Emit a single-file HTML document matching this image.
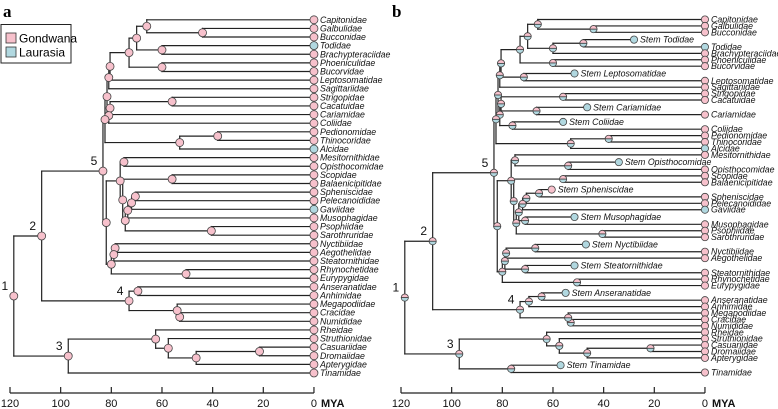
<!DOCTYPE html>
<html><head><meta charset="utf-8"><style>
html,body{margin:0;padding:0;background:#fff;}
svg{display:block;font-family:"Liberation Sans",sans-serif;}
.tip{font-style:italic;font-size:8.8px;fill:#111;}
.tick{font-size:11px;fill:#111;}
.nl{font-size:12px;fill:#111;}
</style></head><body>
<svg id="chart" width="778" height="409" viewBox="0 0 778 409" xmlns="http://www.w3.org/2000/svg">
<defs>
<clipPath id="ct"><rect x="-10" y="-10" width="20" height="10"/></clipPath>
<clipPath id="cb"><rect x="-10" y="0" width="20" height="10"/></clipPath>
</defs>
<text x="3" y="17" style="font-family:'Liberation Serif',serif;font-weight:bold;font-size:17px">a</text>
<text x="392" y="17" style="font-family:'Liberation Serif',serif;font-weight:bold;font-size:17px">b</text>
<g>
<rect x="1" y="24.5" width="70" height="38.5" fill="#fff" stroke="#222" stroke-width="1"/>
<rect x="6" y="33" width="10" height="10" fill="#f7c1cc" stroke="#333" stroke-width="0.8"/>
<text x="19" y="42.5" font-size="12">Gondwana</text>
<rect x="6" y="47" width="10" height="10" fill="#b1d8e0" stroke="#333" stroke-width="0.8"/>
<text x="19" y="56.5" font-size="12">Laurasia</text>
</g>
<g id="pa"></g><g id="pb"></g>
</svg>
<script>
const tipNames = ["Capitonidae","Galbulidae","Bucconidae","Todidae","Brachypteraciidae","Phoeniculidae","Bucorvidae","Leptosomatidae","Sagittariidae","Strigopidae","Cacatuidae","Cariamidae","Coliidae","Pedionomidae","Thinocoridae","Alcidae","Mesitornithidae","Opisthocomidae","Scopidae","Balaenicipitidae","Spheniscidae","Pelecanoididae","Gaviidae","Musophagidae","Psophiidae","Sarothruridae","Nyctibiidae","Aegothelidae","Steatornithidae","Rhynochetidae","Eurypygidae","Anseranatidae","Anhimidae","Megapodiidae","Cracidae","Numididae","Rheidae","Struthionidae","Casuariidae","Dromaiidae","Apterygidae","Tinamidae"];
const laurasiaTips = ["Todidae","Alcidae","Gaviidae"];
const nodeIds = ["GB","CGB","TB","CT","PB","K","KL","KLS","SC","SCC","SCCC","D","PT","PTA","DP","MO","SB","SP","SPG","SPGM","PS","I","H","F","NA","NAS","RE","G","E","N5","AA","CN","MCN","N4","N2","CD","CDA","SCDA","R","N3","N1"];
const nodeKids = [["Galbulidae","Bucconidae"],["Capitonidae","GB"],["Todidae","Brachypteraciidae"],["CGB","TB"],["Phoeniculidae","Bucorvidae"],["CT","PB"],["K","Leptosomatidae"],["KL","Sagittariidae"],["Strigopidae","Cacatuidae"],["SC","Cariamidae"],["SCC","Coliidae"],["KLS","SCCC"],["Pedionomidae","Thinocoridae"],["PT","Alcidae"],["D","PTA"],["Mesitornithidae","Opisthocomidae"],["Scopidae","Balaenicipitidae"],["Spheniscidae","Pelecanoididae"],["SP","Gaviidae"],["SPG","Musophagidae"],["Psophiidae","Sarothruridae"],["SPGM","PS"],["SB","I"],["MO","H"],["Nyctibiidae","Aegothelidae"],["NA","Steatornithidae"],["Rhynochetidae","Eurypygidae"],["NAS","RE"],["F","G"],["DP","E"],["Anseranatidae","Anhimidae"],["Cracidae","Numididae"],["Megapodiidae","CN"],["AA","MCN"],["N5","N4"],["Casuariidae","Dromaiidae"],["CD","Apterygidae"],["Struthionidae","CDA"],["Rheidae","SCDA"],["R","Tinamidae"],["N2","N3"]];
const nodeAges = [44,66,60,70,60,73,80.5,81,56,80.5,81,81.7,38,53,82.5,75,56,70.5,72,73.5,40.5,74.5,75.5,76.5,78.5,79,50.5,80,82,83.3,69.5,53,54,73,107.5,21.5,46.5,57.5,62.5,97,118.5];
const numberedNodes = ["N1","N2","N3","N4","N5"];
const numberedLabels = ["1","2","3","4","5"];
// panel b stems
const stemTips = ["Todidae","Leptosomatidae","Cariamidae","Coliidae","Opisthocomidae","Spheniscidae","Musophagidae","Nyctibiidae","Steatornithidae","Anseranatidae","Tinamidae"];
const stemAttachAges = [48,71.5,66.5,76,54,65.5,71,67,71,64.5,76.5];
const stemEndAges = [28,51.5,46.5,56,34,60.5,51.5,47,51.5,55,57];
const stemLaurasia = [true,true,true,true,true,false,true,true,true,true,true];
const tickValues = [120,100,80,60,40,20,0];

const NS="http://www.w3.org/2000/svg";
const PINK="#f7c1cc", BLUE="#b1d8e0";
function mk(parent,tag,attrs){const e=document.createElementNS(NS,tag);for(const k in attrs)e.setAttribute(k,attrs[k]);parent.appendChild(e);return e;}

function draw(gid, x0, panelB){
  const g=document.getElementById(gid);
  const X=a=>x0+(120-a)*2.533;
  const tipX=X(0);
  const ypos={};
  const rows=[];
  tipNames.forEach(t=>{
    if(panelB){const si=stemTips.indexOf(t); if(si>=0) rows.push({stem:si});}
    rows.push({tip:t});
  });
  let y=0;
  rows.forEach((r,i)=>{
    if(i>0){const prev=rows[i-1]; y+= panelB ? ((r.stem!==undefined||prev.stem!==undefined)?7.4:6.5) : 1;}
    r.y=y;
  });
  const yTop=panelB?19.5:19.8, yBot=panelB?372.5:373;
  rows.forEach(r=>{r.y=yTop+(yBot-yTop)*r.y/y;});
  const stemY={};
  rows.forEach(r=>{ if(r.tip){ypos[r.tip]=r.y;} else stemY[r.stem]=r.y; });
  const effY={}, effAge={};
  tipNames.forEach(t=>{effY[t]=ypos[t];effAge[t]=0;});
  const lines=mk(g,'g',{});
  
  
  const circles=[];
  const L=(x1,y1,x2,y2)=>mk(lines,'line',{x1,y1,x2,y2,stroke:'#222','stroke-width':1.2,'stroke-linecap':'square'});
  if(panelB){
    stemTips.forEach((t,i)=>{
      const sy=stemY[i], ty=ypos[t], ny=(sy+ty)/2, ax=X(stemAttachAges[i]);
      L(ax,sy,ax,ty); L(ax,sy,X(stemEndAges[i]),sy); L(ax,ty,tipX,ty);
      circles.push({x:ax,y:ny,half:true});
      circles.push({x:X(stemEndAges[i]),y:sy,col:stemLaurasia[i]?BLUE:PINK,stemLabel:'Stem '+t});
      effY[t]=ny; effAge[t]=stemAttachAges[i];
    });
  }
  nodeIds.forEach((id,i)=>{
    const kids=nodeKids[i];
    const nx=X(nodeAges[i]);
    const ky=kids.map(k=>effY[k]);
    kids.forEach(k=>{ L(nx,effY[k],X(effAge[k]),effY[k]); });
    L(nx,Math.min(...ky),nx,Math.max(...ky));
    const ny=(ky[0]+ky[ky.length-1])/2;
    effY[id]=ny; effAge[id]=nodeAges[i];
    circles.push({x:nx,y:ny,half:panelB,col:PINK,node:id});
  });
  tipNames.forEach(t=>circles.push({x:tipX,y:ypos[t],col:laurasiaTips.includes(t)?BLUE:PINK,tip:t}));
  const r=panelB?3.6:4;
  circles.forEach(c=>{
    const cg=mk(g,'g',{transform:`translate(${c.x.toFixed(2)},${c.y.toFixed(2)})`});
    
    
    if(c.half){
      mk(cg,'circle',{r,fill:PINK,'clip-path':'url(#ct)'});
      mk(cg,'circle',{r,fill:BLUE,'clip-path':'url(#cb)'});
      mk(cg,'circle',{r,fill:'none',stroke:'#444','stroke-width':0.8});
      mk(cg,'line',{x1:-r,y1:0,x2:r,y2:0,stroke:'#333','stroke-width':0.8});
    } else {
      mk(cg,'circle',{r,fill:c.col,stroke:'#444','stroke-width':0.8});
    }
    if(c.tip){
      const tx=mk(cg,'text',{x:6,y:3,class:'tip'});tx.textContent=c.tip;
      
      
    }
    if(c.stemLabel){
      const tx=mk(cg,'text',{x:6,y:3,class:'tip'});tx.textContent=c.stemLabel;
      
      
    }
  });
  numberedNodes.forEach((id,i)=>{
    const t=mk(g,'text',{x:X(effAge[id])-9,y:effY[id]-6,class:'nl','text-anchor':'middle'});
    t.textContent=numberedLabels[i];
    
    
  });
  const ax=mk(g,'g',{});
  
  
  mk(ax,'line',{x1:X(120),y1:393,x2:X(0),y2:393,stroke:'#222','stroke-width':1.2});
  tickValues.forEach(v=>{
    mk(ax,'line',{x1:X(v),y1:387,x2:X(v),y2:393,stroke:'#222','stroke-width':1.2});
    const t=mk(ax,'text',{x:X(v),y:407,class:'tick','text-anchor':'middle'});t.textContent=v;
    
    
  });
  const m=mk(ax,'text',{x:X(0)+7,y:407,class:'tick','font-weight':'bold'});m.textContent='MYA';
  
  
}
draw('pa',10,false);
draw('pb',401,true);
</script>
</body></html>
